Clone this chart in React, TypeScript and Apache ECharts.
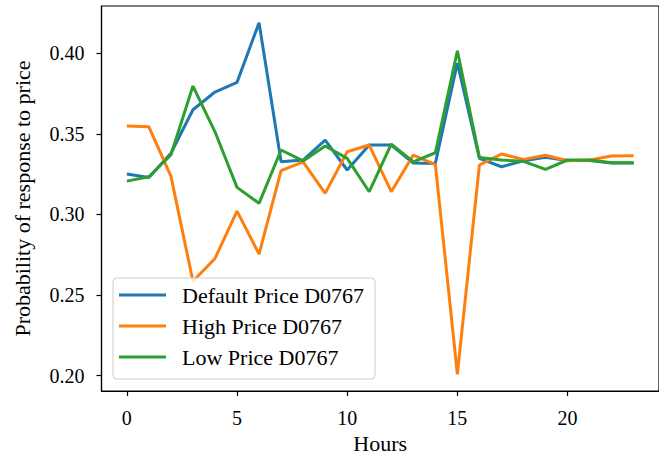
import React, { useEffect, useRef } from "react";
import * as echarts from "echarts";

const hours = [0, 1, 2, 3, 4, 5, 6, 7, 8, 9, 10, 11, 12, 13, 14, 15, 16, 17, 18, 19, 20, 21, 22, 23];
const defaultPrice = [0.3251, 0.323, 0.338, 0.365, 0.376, 0.382, 0.419, 0.3327, 0.3338, 0.3462, 0.3276, 0.3431, 0.3431, 0.3319, 0.3317, 0.394, 0.3348, 0.3296, 0.3333, 0.3355, 0.3335, 0.3335, 0.332, 0.332];
const highPrice = [0.3549, 0.3544, 0.3238, 0.2585, 0.2727, 0.3021, 0.2754, 0.3272, 0.3327, 0.3131, 0.3389, 0.3431, 0.3141, 0.3369, 0.331, 0.2008, 0.3307, 0.3375, 0.3342, 0.3367, 0.3333, 0.3338, 0.3363, 0.3364];
const lowPrice = [0.3207, 0.3234, 0.3369, 0.3797, 0.3513, 0.3168, 0.3069, 0.340, 0.3332, 0.3425, 0.3348, 0.3141, 0.3437, 0.3327, 0.3383, 0.4016, 0.3354, 0.3338, 0.333, 0.328, 0.3338, 0.3338, 0.3321, 0.3321];
const seriesNames = ["Default Price D0767", "High Price D0767", "Low Price D0767"];
const xTicks = [0, 5, 10, 15, 20];
const yTicks = [0.2, 0.25, 0.3, 0.35, 0.4];
const colors = ["#1f77b4", "#ff7f0e", "#2ca02c"];

const FONT = '"Liberation Serif", "Times New Roman", serif';

export default function App() {
  const ref = useRef<HTMLDivElement>(null);
  useEffect(() => {
    if (!ref.current) return;
    const chart = echarts.init(ref.current, undefined, { renderer: "svg" });
    const allSeries = [defaultPrice, highPrice, lowPrice];
    chart.setOption({
      animation: false,
      backgroundColor: "#ffffff",
      grid: {
        left: 101.5,
        top: 6,
        width: 564.5,
        height: 385,
        show: true,
        borderColor: "#000",
        borderWidth: 1.2,
        backgroundColor: "transparent",
      },
      legend: {
        left: 113,
        top: 278,
        orient: "vertical",
        data: seriesNames.map((n) => ({ name: n, icon: "rect" })),
        itemWidth: 47,
        itemHeight: 3,
        itemGap: 9,
        padding: [6, 11, 11, 6],
        backgroundColor: "rgba(255,255,255,0.8)",
        borderColor: "#cccccc",
        borderWidth: 1,
        borderRadius: 4,
        textStyle: { fontFamily: FONT, fontSize: 22, color: "#000", lineHeight: 22, padding: [0, 0, 0, 11] },
      },
      xAxis: {
        type: "value",
        min: -1.15,
        max: 24.15,
        name: "Hours",
        nameLocation: "middle",
        nameGap: 40,
        nameTextStyle: { fontFamily: FONT, fontSize: 22, color: "#000" },
        splitLine: { show: false },
        axisLine: { show: true, onZero: false, lineStyle: { color: "#000", width: 1.2 } },
        axisTick: { show: true, length: 5, lineStyle: { color: "#000", width: 1.2 }, customValues: xTicks },
        axisLabel: { fontFamily: FONT, fontSize: 20, color: "#000", margin: 17, customValues: xTicks, formatter: (v: number) => String(v) },
      },
      yAxis: {
        type: "value",
        min: 0.1904,
        max: 0.4294,
        name: "Probability of response to price",
        nameLocation: "middle",
        nameGap: 68,
        nameRotate: 90,
        nameTextStyle: { fontFamily: FONT, fontSize: 22, color: "#000" },
        splitLine: { show: false },
        axisLine: { show: true, onZero: false, lineStyle: { color: "#000", width: 1.2 } },
        axisTick: { show: true, length: 5, lineStyle: { color: "#000", width: 1.2 }, customValues: yTicks },
        axisLabel: { fontFamily: FONT, fontSize: 20, color: "#000", margin: 17, customValues: yTicks, formatter: (v: number) => v.toFixed(2) },
      },
      series: allSeries.map((vals, i) => ({
        name: seriesNames[i],
        type: "line",
        data: hours.map((h, j) => [h, vals[j]]),
        showSymbol: false,
        symbol: "none",
        lineStyle: { color: colors[i], width: 3 },
        itemStyle: { color: colors[i] },
        z: 2 + i,
      })),
    });
    return () => chart.dispose();
  }, []);
  return <div ref={ref} style={{ position: "fixed", left: 0, top: 0, width: 659, height: 461 }} />;
}
